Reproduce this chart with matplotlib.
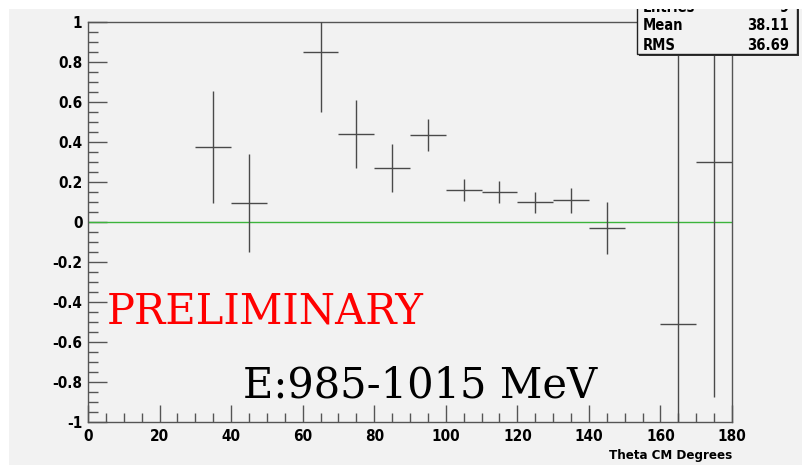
import matplotlib
matplotlib.use('Agg')
import matplotlib.pyplot as plt
from matplotlib.patches import Rectangle
from matplotlib.ticker import MultipleLocator
from matplotlib import font_manager

# --- data ---
theta = [35, 45, 65, 75, 85, 95, 105, 115, 125, 135, 145, 165, 175]
asym = [0.375, 0.093, 0.85, 0.44, 0.268, 0.433, 0.16, 0.15, 0.098, 0.108, -0.028, -0.51, 0.30]
asym_err = [0.28, 0.245, 0.30, 0.17, 0.12, 0.08, 0.055, 0.055, 0.052, 0.062, 0.13, 1.6, 1.175]
bin_half = [5] * len(theta)

stat_names = ['Entries', 'Mean', 'RMS']
stat_values = ['9', '38.11', '36.69']


def is_bold(f):
    w = f.weight
    return (isinstance(w, int) and w >= 600) or (isinstance(w, str) and 'bold' in w.lower())


# look for a narrow / condensed bold sans, ROOT uses Helvetica bold condensed
cands = []
for f in font_manager.fontManager.ttflist:
    if not is_bold(f) or 'Serif' in f.name or 'Mono' in f.name or 'italic' in f.style or 'oblique' in f.style:
        continue
    if 'Narrow' in f.name or 'Condensed' in f.name or 'condensed' in str(f.stretch):
        cands.append(f)
cands.sort(key=lambda f: (0 if 'Liberation' in f.name else 1 if 'DejaVu' in f.name else 2, f.name))
if cands:
    lab_fp = font_manager.FontProperties(fname=cands[0].fname)
    tick_size, box_size, title_size = 11, 10.5, 9.5
else:
    lab_fp = font_manager.FontProperties(family='Liberation Sans', weight='bold')
    tick_size, box_size, title_size = 10.5, 10, 9.5

W, H = 803, 467
BG = '#f2f2f2'
fig = plt.figure(figsize=(W / 100, H / 100), dpi=100, facecolor='white')

# grey canvas, behind the axes
fig.patches.append(Rectangle((9 / W, 2 / H), 1, (H - 11) / H, transform=fig.transFigure,
                             facecolor=BG, edgecolor='none', zorder=-10))

ax = fig.add_axes([88 / W, (H - 422) / H, (732 - 88) / W, 400 / H])
ax.set_facecolor(BG)

ax.errorbar(theta, asym, yerr=asym_err, xerr=bin_half, fmt='none',
            ecolor='#4a4a4a', elinewidth=1.0, capsize=0, zorder=3)
ax.axhline(0, color='#3cb43c', lw=1.0, zorder=2)

ax.set_xlim(0, 180)
ax.set_ylim(-1, 1)
ax.xaxis.set_major_locator(MultipleLocator(20))
ax.xaxis.set_minor_locator(MultipleLocator(5))
ax.yaxis.set_major_locator(MultipleLocator(0.2))
ax.yaxis.set_minor_locator(MultipleLocator(0.05))
ax.xaxis.set_major_formatter(plt.FuncFormatter(lambda v, p: f'{v:g}'))
ax.yaxis.set_major_formatter(plt.FuncFormatter(lambda v, p: f'{round(v, 1):g}'))

ax.tick_params(which='both', direction='in', top=False, right=False, color='#555555', width=1)
ax.tick_params(axis='y', which='major', length=13.5, pad=4)
ax.tick_params(axis='y', which='minor', length=7)
ax.tick_params(axis='x', which='major', length=12, pad=5)
ax.tick_params(axis='x', which='minor', length=6.5)
for lbl in ax.get_xticklabels() + ax.get_yticklabels():
    lbl.set_fontproperties(lab_fp)
    lbl.set_fontsize(tick_size)
for s in ax.spines.values():
    s.set_color('#555555')
    s.set_linewidth(1)

fig.text(732 / W, 1 - 455 / H, 'Theta CM Degrees', ha='right', va='center',
         fontproperties=lab_fp, fontsize=title_size)

fig.text(107 / W, 1 - 311 / H, 'PRELIMINARY', color='red',
         family='DejaVu Serif', fontsize=30, ha='left', va='center')
fig.text(243 / W, 1 - 385 / H, 'E:985-1015 MeV', color='black',
         family='DejaVu Serif', fontsize=30, ha='left', va='center')

# stat box (top cut off by canvas, as in the original)
x0, x1, y1 = 637 / W, 797 / W, 1 - 54 / H
fig.patches.append(Rectangle((x0 + 2 / W, y1 - 2 / H), x1 - x0, 1, transform=fig.transFigure,
                             facecolor='#333333', edgecolor='none', zorder=5))
fig.patches.append(Rectangle((x0, y1), x1 - x0, 1, transform=fig.transFigure,
                             facecolor=BG, edgecolor='#222222', lw=1, zorder=6))
for i, (n, v) in enumerate(zip(stat_names, stat_values)):
    yy = 1 - (7 + 19 * i) / H
    fig.text(643 / W, yy, n, ha='left', va='center', zorder=7,
             fontproperties=lab_fp, fontsize=box_size)
    fig.text(789 / W, yy, v, ha='right', va='center', zorder=7,
             fontproperties=lab_fp, fontsize=box_size)

# white margin at the top, over everything
fig.patches.append(Rectangle((0, 1 - 9 / H), 1, 9 / H, transform=fig.transFigure,
                             facecolor='white', edgecolor='none', zorder=20))

fig.savefig('out.png', dpi=100, facecolor='white')
